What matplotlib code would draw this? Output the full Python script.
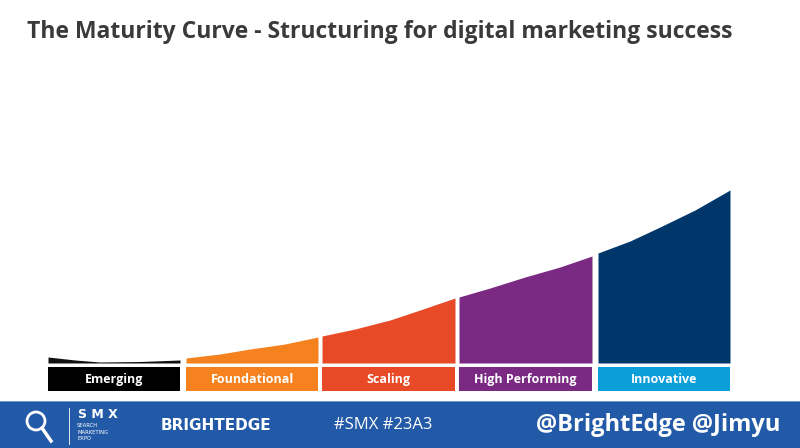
import numpy as np
import matplotlib.pyplot as plt

# maturity curve height (pixels above baseline)
curve_x = [48, 75, 100, 140, 180, 186, 220, 250, 285, 318, 322, 355, 390, 420, 455,
           459, 490, 525, 560, 592, 598, 630, 660, 695, 730]
curve_h = [6, 3, 1, 1.5, 3, 5, 9, 14, 19, 26, 27, 34, 43, 53, 65,
           66, 75, 86, 96, 107, 110, 122, 136, 153, 173]

stages = ["Emerging", "Foundational", "Scaling", "High Performing", "Innovative"]
stage_left = [48, 186, 322, 459, 598]
stage_right = [180, 318, 455, 592, 730]
fill_colors = ["#111111", "#f5821f", "#e84a27", "#7b2a83", "#00376b"]
label_colors = ["#000000", "#f5821f", "#e84a27", "#7b2a83", "#0c9ed9"]

baseline = 363

fig = plt.figure(figsize=(8, 4.48), dpi=100)
ax = fig.add_axes([0, 0, 1, 1])
ax.set_xlim(0, 800)
ax.set_ylim(448, 0)
ax.axis("off")

ax.text(27, 32, "The Maturity Curve - Structuring for digital marketing success",
        fontsize=16.5, fontweight="bold", color="#3a3a3a", family="Open Sans",
        va="center", ha="left")

cx = np.array(curve_x, dtype=float)
ch = np.array(curve_h, dtype=float)
for name, l, r, fc, lc in zip(stages, stage_left, stage_right, fill_colors, label_colors):
    m = (cx >= l) & (cx <= r)
    ax.fill_between(cx[m], baseline - ch[m], baseline, color=fc, lw=0)
    ax.add_patch(plt.Rectangle((l, 367), r - l, 24, color=lc, lw=0))
    ax.text((l + r) / 2, 379.5, name, color="white", fontsize=9, fontweight="bold",
            ha="center", va="center", family="Open Sans")

# footer banner
ax.add_patch(plt.Rectangle((0, 402), 800, 46, color="#225aa8", lw=0))
ax.add_patch(plt.Rectangle((0, 401), 800, 1.5, color="#6f9bd3", lw=0))
ax.text(78, 414, "S M X", color="white", fontsize=9, fontweight="bold", va="center")
ax.text(77, 432, "SEARCH\nMARKETING\nEXPO", color="white", fontsize=3.8, va="center", linespacing=1.3)
ax.plot([69, 69], [408, 444], color="white", lw=0.6)
ax.add_patch(plt.Circle((36, 421), 9, fill=False, ec="white", lw=2))
ax.plot([42, 51], [428, 441], color="white", lw=2.5)
ax.text(216, 425, "BRIGHTEDGE", color="white", fontsize=11, fontweight="bold",
        ha="center", va="center", family="Liberation Sans Narrow")
ax.text(383, 425, "#SMX #23A3", color="white", fontsize=12, ha="center", va="center",
        family="Open Sans")
ax.text(658, 425, "@BrightEdge @Jimyu", color="white", fontsize=17, fontweight="bold",
        ha="center", va="center", family="Open Sans")

fig.savefig("out.png", dpi=100)
